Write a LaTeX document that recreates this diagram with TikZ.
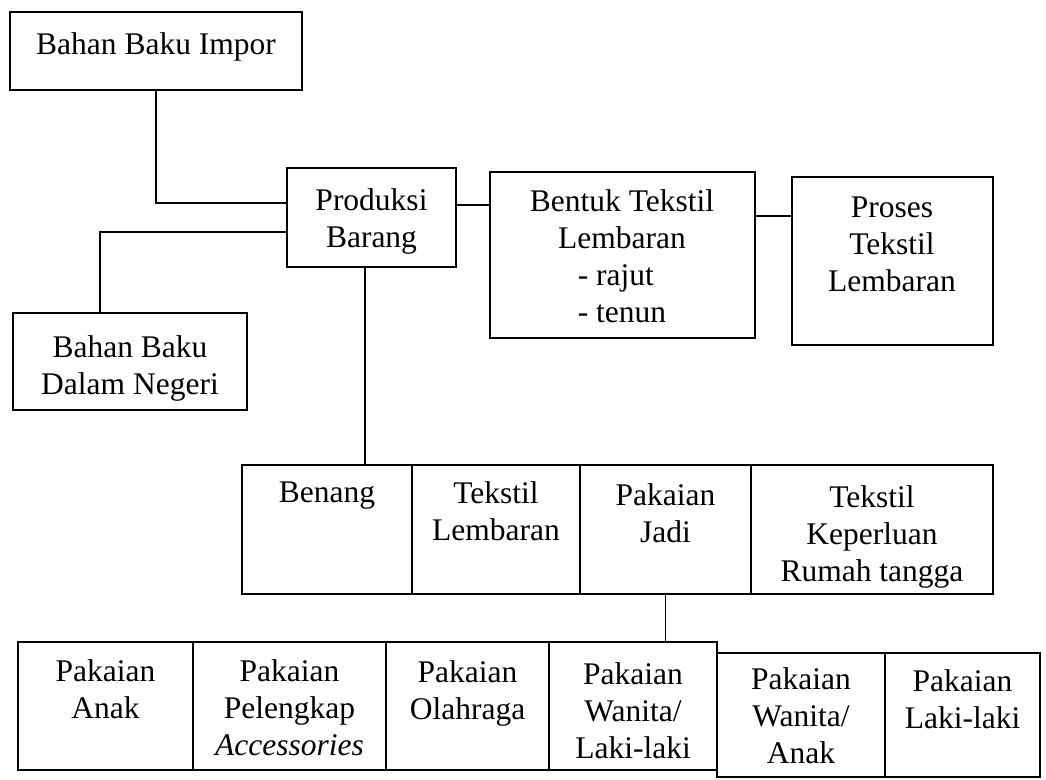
\documentclass[tikz,border=0pt]{standalone}
\usepackage{fontspec}
\setmainfont{Liberation Serif}
\usetikzlibrary{fit}
\newcommand{\bx}[5]{\node[boxst, fit={(#2,#3) (#4,#5)}] (#1) {};}
% name, x, baseline of first line, number of lines, text
\newcommand{\tx}[5]{\node[lbl] (#1) at (#2,{#3+37*(#4-1)}) {#5};}
\begin{document}
\begin{tikzpicture}[x=1pt,y=-1pt,
  boxst/.style={draw, line width=2.5pt, inner sep=0pt},
  lbl/.style={anchor=base, align=center, inner sep=0pt, font=\fontsize{31.5}{37}\selectfont},
  conn/.style={line width=1.9pt}]
\useasboundingbox (0,0) rectangle (1046,779);
% top part
\bx{imp}{10}{12}{302}{90}
\tx{impt}{156}{54}{1}{Bahan Baku Impor}
\bx{prod}{287}{168}{456}{267}
\tx{prodt}{371.5}{210}{2}{Produksi\\Barang}
\bx{dn}{13}{313}{247}{410}
\tx{dnt}{130}{357}{2}{Bahan Baku\\Dalam Negeri}
\bx{bt}{490}{172}{755}{338}
\tx{btt}{622}{211}{4}{Bentuk Tekstil\\Lembaran\\\rlap{- rajut}\phantom{- tenun}\\- tenun}
\bx{pr}{792}{177}{993}{345}
\tx{prt}{892}{217}{3}{Proses\\Tekstil\\Lembaran}
% middle row
\bx{ben}{242}{465}{412}{594}
\tx{bent}{327}{502}{1}{Benang}
\bx{tl}{412}{465}{580}{594}
\tx{tlt}{496}{503}{2}{Tekstil\\Lembaran}
\bx{pj}{580}{465}{751}{594}
\tx{pjt}{665.5}{505}{2}{Pakaian\\Jadi}
\bx{tk}{751}{465}{993}{594}
\tx{tkt}{872}{507}{3}{Tekstil\\Keperluan\\Rumah tangga}
% bottom row
\bx{pa}{18}{642}{193}{770}
\tx{pat}{105.5}{681}{2}{Pakaian\\Anak}
\bx{pp}{193}{642}{386}{770}
\tx{ppt}{289.5}{681}{3}{Pakaian\\Pelengkap\\\textit{Accessories}}
\bx{po}{386}{642}{549}{770}
\tx{pot}{467.5}{682}{2}{Pakaian\\Olahraga}
\bx{pwl}{549}{642}{717}{770}
\tx{pwlt}{633}{684}{3}{Pakaian\\Wanita/\\Laki-laki}
\bx{pwa}{717}{653}{885}{777}
\tx{pwat}{801}{689}{3}{Pakaian\\Wanita/\\Anak}
\bx{pl}{885}{653}{1040}{777}
\tx{plt}{962.5}{691}{2}{Pakaian\\Laki-laki}
% connectors
\coordinate (c1) at ([yshift=14.5pt]prod.west);
\draw[conn] (imp.south) |- (c1);
\coordinate (c2) at ([yshift=-14.5pt]prod.west);
\coordinate (c2b) at ([xshift=-30pt]dn.north);
\draw[conn] (c2) -| (c2b);
\coordinate (c3) at ([yshift=12.5pt]prod.east);
\draw[conn] (c3) -- (c3 -| bt.west);
\coordinate (c4) at ([yshift=39pt]bt.east);
\draw[conn] (c4) -- (c4 -| pr.west);
\coordinate (c5) at ([xshift=-6.5pt]prod.south);
\draw[conn] (c5) -- (c5 |- ben.north);
\draw[conn] (pj.south) -- (pj.south |- pwl.north);
\end{tikzpicture}
\end{document}
